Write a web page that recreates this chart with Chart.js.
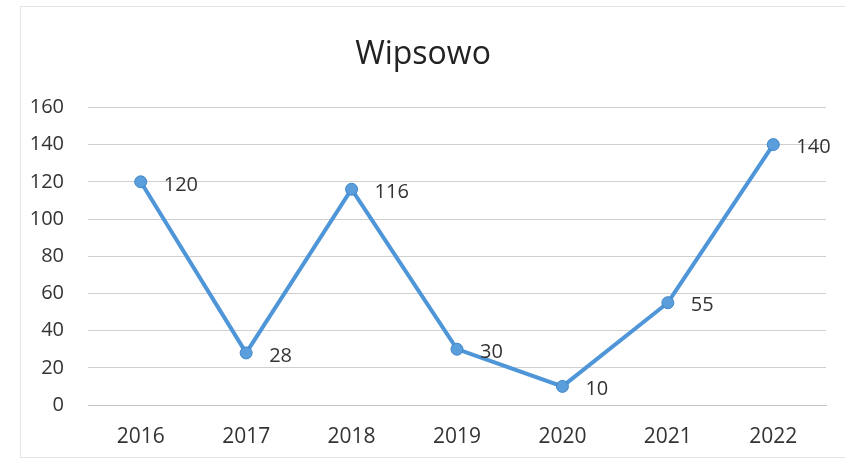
<!DOCTYPE html>
<html>
<head>
<meta charset="utf-8">
<script src="https://cdn.jsdelivr.net/npm/chart.js@4.4.0/dist/chart.umd.min.js"></script>
<style>
  html, body { margin: 0; padding: 0; background: #fff; }
  #wrap { position: relative; width: 845px; height: 466px; }
  #frame { position: absolute; left: 20px; top: 6px; width: 830px; height: 452px; border: 1px solid #e4e4e4; box-sizing: border-box; }
</style>
</head>
<body>
<div id="wrap">
  <div id="frame"></div>
  <canvas id="chart" width="845" height="466"></canvas>
</div>
<script>
// dane z wykresu
const years = ['2016', '2017', '2018', '2019', '2020', '2021', '2022'];
const values = [120, 28, 116, 30, 10, 55, 140];
const yTicks = [0, 20, 40, 60, 80, 100, 120, 140, 160];

const FONT = '"Open Sans", "Liberation Sans", sans-serif';
const BLUE = '#4f96d8';

// etykiety danych po prawej stronie punktu
const pointLabels = {
    id: 'pointLabels',
    afterDatasetsDraw(chart) {
        const ctx = chart.ctx;
        const meta = chart.getDatasetMeta(0);
        ctx.save();
        ctx.font = '20px ' + FONT;
        ctx.fillStyle = '#333';
        ctx.textAlign = 'left';
        ctx.textBaseline = 'middle';
        meta.data.forEach((pt, i) => {
            ctx.fillText(String(values[i]), pt.x + 23, pt.y + 3);
        });
        ctx.restore();
    }
};

new Chart(document.getElementById('chart'), {
    type: 'line',
    data: {
        labels: years,
        datasets: [{
            data: values,
            borderColor: BLUE,
            backgroundColor: BLUE,
            borderWidth: 4,
            pointRadius: 6,
            pointBorderWidth: 1,
            pointBorderColor: '#3f86c8',
            pointBackgroundColor: '#5a9edc',
            tension: 0
        }]
    },
    options: {
        responsive: false,
        animation: false,
        layout: { padding: { left: 20, right: 19, top: 0, bottom: 0 } },
        plugins: {
            legend: { display: false },
            tooltip: { enabled: false },
            title: {
                display: true,
                text: 'Wipsowo',
                color: '#222',
                font: { family: FONT, size: 32, weight: 'normal' },
                padding: { top: 36, bottom: 33 }
            }
        },
        scales: {
            x: {
                offset: true,
                grid: { display: false, drawTicks: false },
                border: { display: true, color: '#c4c4c4', width: 1 },
                ticks: { color: '#333', font: { family: FONT, size: 21 }, padding: 19 },
                afterFit(scale) { scale.height = 61; }
            },
            y: {
                min: 0,
                max: 160,
                afterBuildTicks(scale) { scale.ticks = yTicks.map(v => ({ value: v })); },
                grid: { color: '#cfcfcf', lineWidth: 1, drawTicks: false },
                border: { display: false },
                ticks: { color: '#333', font: { family: FONT, size: 20 }, padding: 24 },
                afterFit(scale) { scale.width = 68; }
            }
        }
    },
    plugins: [pointLabels]
});
</script>
</body>
</html>
